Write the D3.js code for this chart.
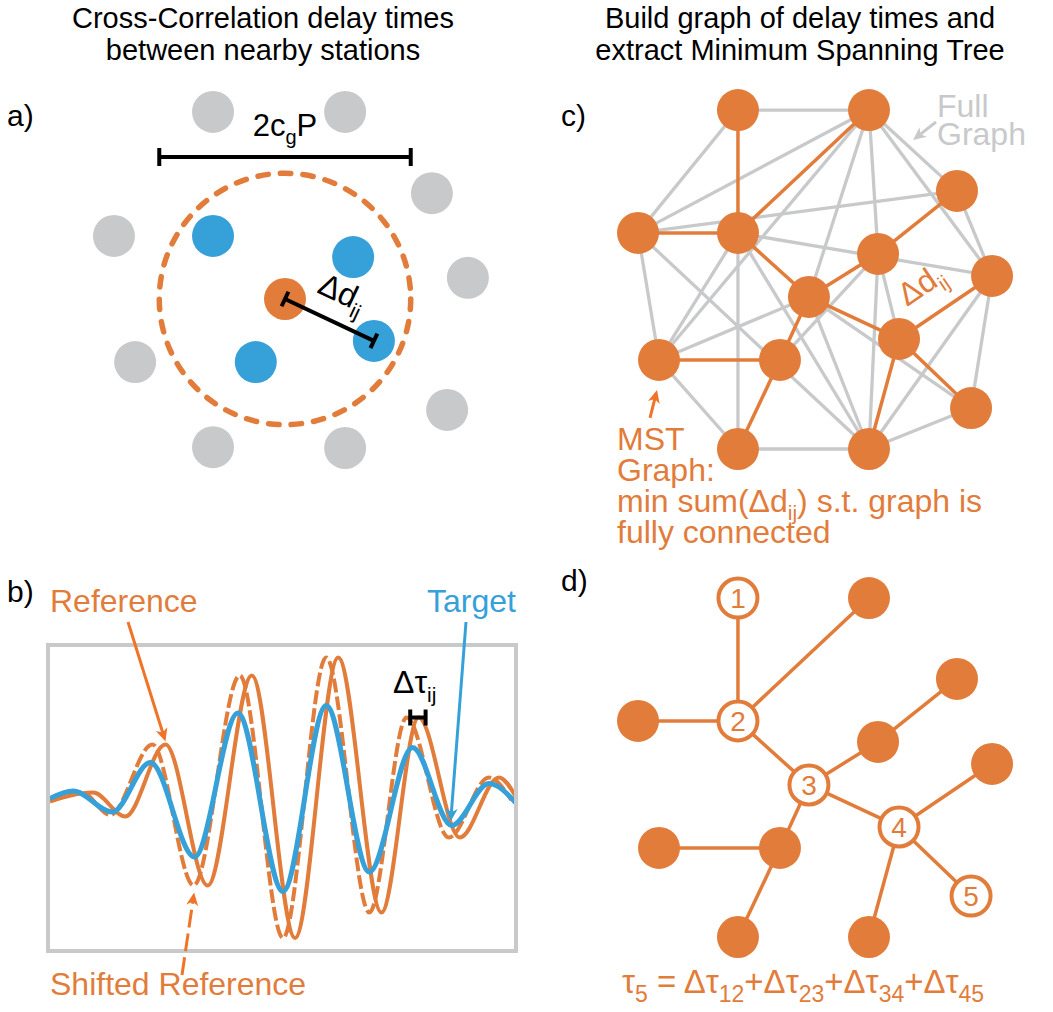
<!DOCTYPE html>
<html>
<head>
<meta charset="utf-8">
<script src="https://cdn.jsdelivr.net/npm/d3@7"></script>
<style>
  html, body { margin: 0; padding: 0; background: #fff; }
  svg { display: block; font-family: "Liberation Sans", Arial, Helvetica, sans-serif; }
</style>
</head>
<body>
<svg id="fig" width="1053" height="1012"></svg>
<script>
// ---------- colours ----------
const ORANGE = "#e27c3b";
const ARROW_ORANGE = "#ef7428";
const BLUE = "#36a0d9";
const GREY = "#c8c9cb";

// ---------- panel a: station layout (km east / north of the reference station) ----------
const outerStations = [[-1.7, 4.42], [1.42, 4.42], [3.47, 2.5], [-4.04, 1.49], [4.32, 0.5],
                       [-3.54, -1.49], [3.83, -2.62], [-1.7, -3.5], [1.42, -3.52]];
const nearbyStations = [[-1.7, 1.49], [1.61, 0.99], [-0.69, -1.49], [2.1, -0.99]];
const referenceStation = [0, 0];
const searchRadius = 2.97;      // c_g * P
const pairedStation = 3;        // nearby station used for Δd_ij

// ---------- panel b: waveforms (time, normalised amplitude) ----------
const referenceTrace = [[0, -0.01], [9.27, 0.05], [16.16, -0.11], [24.78, 0.37], [33.84, -0.57],
  [43.32, 0.83], [52.59, -0.92], [61.85, 0.95], [71.12, -0.75], [79.09, 0.55], [87.93, -0.25],
  [96.34, 0.15], [100, 0.02]];
const shiftedTrace = [[0, 0.0], [6.9, 0.05], [12.93, -0.1], [21.98, 0.37], [30.82, -0.57],
  [40.73, 0.83], [50.0, -0.92], [59.27, 0.95], [68.53, -0.75], [76.51, 0.55], [85.56, -0.25],
  [94.18, 0.15], [99, 0.0]];
const targetTrace = [[0, 0.01], [4.96, 0.06], [13.36, -0.08], [21.55, 0.25], [31.03, -0.38],
  [40.3, 0.58], [50.0, -0.61], [59.27, 0.63], [68.53, -0.48], [77.8, 0.35], [86.2, -0.17],
  [94.18, 0.11], [100, -0.02]];
const delaySpan = [77.3, 80.6];   // Δτ_ij marker extent (time)
const delayLevel = 0.55;

// ---------- panels c & d: station network (km) ----------
const nodeEast  = [4.76, 11.0, 15.19, 0.0, 4.76, 11.43, 16.86, 8.14, 12.43, 1.0, 6.76, 15.86, 4.76, 11.0];
const nodeNorth = [16.14, 16.14, 12.29, 10.29, 10.29, 9.29, 8.24, 7.24, 5.24, 4.24, 4.24, 1.95, 0.0, 0.0];
const fullGraphEdges = [[0,1],[0,3],[1,3],[1,2],[1,6],[1,5],[1,7],[1,9],[2,3],[2,6],[3,9],[3,13],
  [4,12],[4,9],[4,6],[4,13],[5,13],[5,8],[5,10],[6,11],[6,13],[7,11],[7,13],[9,7],[9,12],[11,13],[12,13]];
const mstEdges = [[0,4],[3,4],[4,1],[4,7],[7,5],[5,2],[7,8],[8,6],[8,11],[8,13],[7,10],[10,9],[10,12]];
const pathNodes = [0, 4, 7, 8, 11];   // stations 1..5 along the delay path
const pathLabels = ["1", "2", "3", "4", "5"];

// ---------- helpers ----------
const svg = d3.select("#fig");

// text made of plain and subscript runs; a run of ["\n"] starts a new line
function richText(g, x, y, parts, opts) {
  const size = opts.size || 32, sub = opts.sub || 21, drop = opts.drop || 8, lh = opts.lineHeight || 31;
  const t = g.append("text").attr("x", x).attr("y", y)
    .attr("font-size", size).attr("fill", opts.color || "#000")
    .attr("text-anchor", opts.anchor || "start");
  if (opts.transform) t.attr("transform", opts.transform);
  let low = false, newLine = false;
  parts.forEach(p => {
    if (p[0] === "\n") { newLine = true; return; }
    const isSub = p[1] === 1;
    const ts = t.append("tspan").text(p[0]).attr("font-size", isSub ? sub : size);
    let shift = 0;
    if (isSub && !low) { shift = drop; low = true; }
    else if (!isSub && low) { shift = -drop; low = false; }
    if (newLine) { ts.attr("x", x); shift += lh; newLine = false; }
    if (shift) ts.attr("dy", shift);
  });
  return t;
}

function arrow(g, x1, y1, x2, y2, color, width, dash) {
  const a = Math.atan2(y2 - y1, x2 - x1), c = Math.cos(a), s = Math.sin(a);
  const hl = 13, hw = 6;
  const line = g.append("line")
    .attr("x1", x1).attr("y1", y1)
    .attr("x2", x2 - c * hl * 0.7).attr("y2", y2 - s * hl * 0.7)
    .attr("stroke", color).attr("stroke-width", width);
  if (dash) line.attr("stroke-dasharray", dash);
  const bx = x2 - c * hl, by = y2 - s * hl;
  const nx = x2 - c * hl * 0.72, ny = y2 - s * hl * 0.72;
  g.append("path")
    .attr("d", `M${x2},${y2}L${bx - s * hw},${by + c * hw}L${nx},${ny}L${bx + s * hw},${by - c * hw}Z`)
    .attr("fill", color);
}

// ---------- titles ----------
const titles = svg.append("g").attr("font-size", 29).attr("text-anchor", "middle");
titles.append("text").attr("x", 263).attr("y", 28).text("Cross-Correlation delay times");
titles.append("text").attr("x", 263).attr("y", 60).text("between nearby stations");
titles.append("text").attr("x", 800).attr("y", 28).text("Build graph of delay times and");
titles.append("text").attr("x", 800).attr("y", 60).text("extract Minimum Spanning Tree");

const panelLabels = svg.append("g").attr("font-size", 30);
panelLabels.append("text").attr("x", 7).attr("y", 126).text("a)");
panelLabels.append("text").attr("x", 7).attr("y", 602).text("b)");
panelLabels.append("text").attr("x", 561).attr("y", 126).text("c)");
panelLabels.append("text").attr("x", 561).attr("y", 591).text("d)");

// ---------- panel a ----------
const ax = d3.scaleLinear().domain([-3, 3]).range([158, 412]);
const ay = d3.scaleLinear().domain([-3, 3]).range([426, 172]);
const pa = svg.append("g");
const unitPx = ax(1) - ax(0);

pa.append("circle")
  .attr("cx", ax(referenceStation[0])).attr("cy", ay(referenceStation[1]))
  .attr("r", searchRadius * unitPx)
  .attr("fill", "none").attr("stroke", ORANGE).attr("stroke-width", 5.5)
  .attr("stroke-linecap", "round").attr("stroke-dasharray", "10.5 12.1");

pa.selectAll("circle.outer").data(outerStations).join("circle")
  .attr("class", "outer").attr("cx", d => ax(d[0])).attr("cy", d => ay(d[1]))
  .attr("r", 21).attr("fill", GREY);
pa.selectAll("circle.near").data(nearbyStations).join("circle")
  .attr("class", "near").attr("cx", d => ax(d[0])).attr("cy", d => ay(d[1]))
  .attr("r", 21).attr("fill", BLUE);
pa.append("circle").attr("cx", ax(referenceStation[0])).attr("cy", ay(referenceStation[1]))
  .attr("r", 21).attr("fill", ORANGE);

// scale bar 2 c_g P
const barY = 157;
const bar = pa.append("g").attr("stroke", "#000").attr("stroke-width", 4);
bar.append("line").attr("x1", ax(-searchRadius)).attr("x2", ax(searchRadius)).attr("y1", barY).attr("y2", barY);
[-searchRadius, searchRadius].forEach(v =>
  bar.append("line").attr("x1", ax(v)).attr("x2", ax(v)).attr("y1", barY - 9).attr("y2", barY + 9));
richText(pa, ax(0), 136, [["2c", 0], ["g", 1], ["P", 0]], { anchor: "middle", size: 31, sub: 20, drop: 8 });

// Δd_ij between reference and one nearby station
{
  const p0 = [ax(referenceStation[0]), ay(referenceStation[1])];
  const q = nearbyStations[pairedStation];
  const p1 = [ax(q[0]), ay(q[1])];
  const ang = Math.atan2(p1[1] - p0[1], p1[0] - p0[0]);
  const nx = -Math.sin(ang) * 8, ny = Math.cos(ang) * 8;
  const dl = pa.append("g").attr("stroke", "#000").attr("stroke-width", 4);
  dl.append("line").attr("x1", p0[0]).attr("y1", p0[1]).attr("x2", p1[0]).attr("y2", p1[1]);
  [p0, p1].forEach(p => dl.append("line")
    .attr("x1", p[0] - nx).attr("y1", p[1] - ny).attr("x2", p[0] + nx).attr("y2", p[1] + ny));
  const deg = ang * 180 / Math.PI;
  richText(pa, 316, 292, [["Δd", 0], ["ij", 1]],
    { size: 32, sub: 21, drop: 8, transform: `rotate(${deg},316,292)` });
}

// ---------- panel b ----------
const bx = d3.scaleLinear().domain([0, 100]).range([50, 516]);
const by = d3.scaleLinear().domain([-1, 1]).range([950, 650]);
const pb = svg.append("g");
pb.append("clipPath").attr("id", "boxclip").append("rect")
  .attr("x", 50).attr("y", 647).attr("width", 466).attr("height", 302);
const wave = d3.line().x(d => bx(d[0])).y(d => by(d[1])).curve(d3.curveMonotoneX);
const traces = pb.append("g").attr("clip-path", "url(#boxclip)").attr("fill", "none");
traces.append("path").attr("d", wave(referenceTrace)).attr("stroke", ORANGE).attr("stroke-width", 4);
traces.append("path").attr("d", wave(shiftedTrace)).attr("stroke", ORANGE).attr("stroke-width", 4)
  .attr("stroke-dasharray", "14 4");
traces.append("path").attr("d", wave(targetTrace)).attr("stroke", BLUE).attr("stroke-width", 5);
pb.append("rect").attr("x", 48).attr("y", 645).attr("width", 468).attr("height", 306)
  .attr("fill", "none").attr("stroke", GREY).attr("stroke-width", 4);

// Δτ_ij marker
{
  const y = by(delayLevel);
  const h = pb.append("g").attr("stroke", "#000").attr("stroke-width", 4);
  h.append("line").attr("x1", bx(delaySpan[0])).attr("x2", bx(delaySpan[1])).attr("y1", y).attr("y2", y);
  delaySpan.forEach(t => h.append("line").attr("x1", bx(t)).attr("x2", bx(t)).attr("y1", y - 8).attr("y2", y + 8));
  richText(pb, 393, 693, [["Δτ", 0], ["ij", 1]], { size: 32, sub: 21, drop: 9 });
}

richText(pb, 50, 612, [["Reference", 0]], { color: ORANGE, size: 32 });
richText(pb, 516, 612, [["Target", 0]], { color: BLUE, size: 32, anchor: "end" });
richText(pb, 50, 995, [["Shifted Reference", 0]], { color: ORANGE, size: 32 });

{
  const r = referenceTrace[3], s = shiftedTrace[4], t = targetTrace[10];
  arrow(pb, 128, 622, bx(r[0]), by(r[1]) - 3, ARROW_ORANGE, 3);
  arrow(pb, 182, 975, bx(s[0]) + 0.5, by(s[1]) + 7, ARROW_ORANGE, 3, "18 6");
  arrow(pb, 466, 622, bx(t[0]) - 1, by(t[1]) - 4, BLUE, 3);
}

// ---------- panels c & d ----------
const gx = d3.scaleLinear().domain([0, 17]).range([638, 995]);
const cy = d3.scaleLinear().domain([0, 17]).range([449, 92]);
const dy = d3.scaleLinear().domain([0, 17]).range([937, 580]);

function drawEdges(g, edges, yScale, color, width) {
  g.selectAll(null).data(edges).join("line")
    .attr("x1", d => gx(nodeEast[d[0]])).attr("y1", d => yScale(nodeNorth[d[0]]))
    .attr("x2", d => gx(nodeEast[d[1]])).attr("y2", d => yScale(nodeNorth[d[1]]))
    .attr("stroke", color).attr("stroke-width", width);
}

const pc = svg.append("g");
drawEdges(pc, fullGraphEdges, cy, GREY, 3.3);
drawEdges(pc, mstEdges, cy, ORANGE, 3.5);
pc.selectAll("circle").data(nodeEast).join("circle")
  .attr("cx", d => gx(d)).attr("cy", (d, i) => cy(nodeNorth[i])).attr("r", 21).attr("fill", ORANGE);

richText(pc, 937, 117, [["Full", 0], ["\n"], ["Graph", 0]], { color: GREY, size: 32, lineHeight: 28 });
arrow(pc, 936, 122, 913, 140, GREY, 3);

// Δd_ij along one MST edge
{
  const a = 8, b = 6;
  const ang = Math.atan2(cy(nodeNorth[b]) - cy(nodeNorth[a]), gx(nodeEast[b]) - gx(nodeEast[a])) * 180 / Math.PI;
  richText(pc, 907, 307, [["Δd", 0], ["ij", 1]],
    { color: ORANGE, size: 32, sub: 21, drop: 8, transform: `rotate(${ang},907,307)` });
}

{
  const n = 9;
  arrow(pc, gx(nodeEast[n]) - 9, cy(nodeNorth[n]) + 58, gx(nodeEast[n]) - 2, cy(nodeNorth[n]) + 30, ARROW_ORANGE, 3);
}
richText(pc, 617, 450, [["MST", 0], ["\n"], ["Graph:", 0], ["\n"], ["min sum(Δd", 0], ["ij", 1],
  [") s.t. graph is", 0], ["\n"], ["fully connected", 0]],
  { color: ORANGE, size: 32, sub: 21, drop: 8, lineHeight: 31 });

const pd = svg.append("g");
drawEdges(pd, mstEdges, dy, ORANGE, 3.5);
pd.selectAll("circle").data(nodeEast.map((e, i) => i)).join("circle")
  .attr("cx", i => gx(nodeEast[i])).attr("cy", i => dy(nodeNorth[i]))
  .attr("r", i => pathNodes.includes(i) ? 19.5 : 21)
  .attr("fill", i => pathNodes.includes(i) ? "#fff" : ORANGE)
  .attr("stroke", i => pathNodes.includes(i) ? ORANGE : "none")
  .attr("stroke-width", 4);
pd.selectAll("text.num").data(pathNodes).join("text")
  .attr("class", "num")
  .attr("x", i => gx(nodeEast[i])).attr("y", i => dy(nodeNorth[i]) + 10)
  .attr("text-anchor", "middle").attr("font-size", 28).attr("fill", ORANGE)
  .text((i, k) => pathLabels[k]);

richText(pd, 622, 993, [["τ", 0], ["5", 1], [" = Δτ", 0], ["12", 1], ["+Δτ", 0], ["23", 1],
  ["+Δτ", 0], ["34", 1], ["+Δτ", 0], ["45", 1]], { color: ORANGE, size: 33, sub: 23, drop: 9 });
</script>
</body>
</html>
